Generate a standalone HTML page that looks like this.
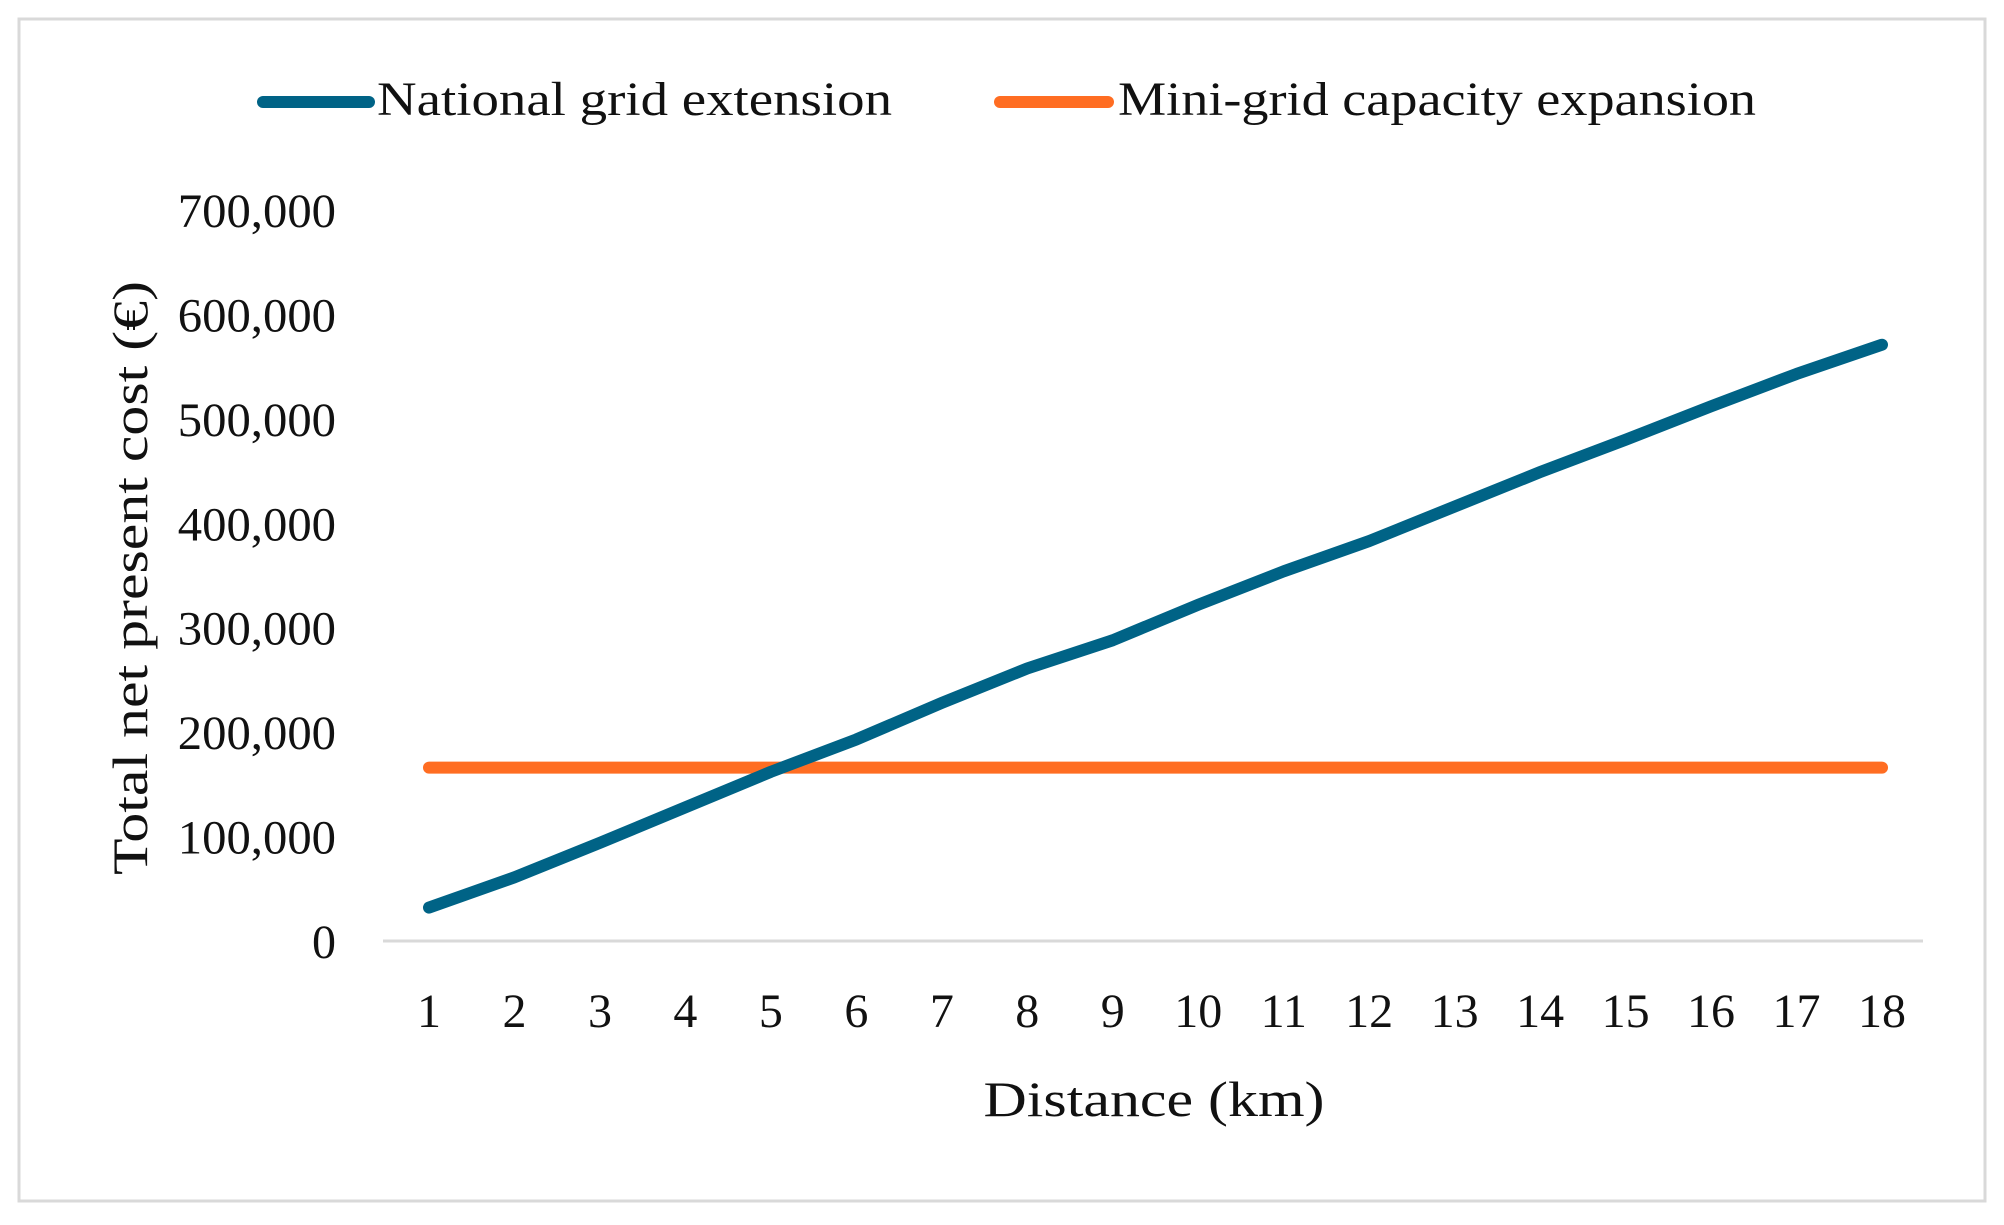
<!DOCTYPE html>
<html><head><meta charset="utf-8"><style>
html,body{margin:0;padding:0;background:#fff;}
svg{display:block;font-family:"Liberation Serif",serif;}
</style></head><body>
<svg id="chart" width="2004" height="1225" viewBox="0 0 2004 1225">
<rect x="19" y="19" width="1966" height="1182" fill="#fff" stroke="#d9d9d9" stroke-width="3"/>
<g>
<g>
<line x1="263" y1="102" x2="369" y2="102" stroke="#006386" stroke-width="12" stroke-linecap="round"/>
<text x="377" y="115" font-size="48" fill="#111" textLength="515" lengthAdjust="spacingAndGlyphs">National grid extension</text>
</g>
<g>
<line x1="1000" y1="102" x2="1108" y2="102" stroke="#ff6d22" stroke-width="12" stroke-linecap="round"/>
<text x="1118" y="115" font-size="48" fill="#111" textLength="638" lengthAdjust="spacingAndGlyphs">Mini-grid capacity expansion</text>
</g>
</g>
<g id="axes"></g>
<g id="series"></g>
<text x="0" y="0" transform="translate(147,578) rotate(-90)" text-anchor="middle" font-size="50" fill="#111" textLength="594" lengthAdjust="spacingAndGlyphs">Total net present cost (€)</text>
<text x="1154" y="1116" text-anchor="middle" font-size="50" fill="#111" textLength="341" lengthAdjust="spacingAndGlyphs">Distance (km)</text>
</svg>
<script>
const categories = [1,2,3,4,5,6,7,8,9,10,11,12,13,14,15,16,17,18];
const nationalGrid = [32000,61000,94000,128000,162000,193000,228000,261000,288000,322000,354000,383000,416000,449000,480000,512000,543000,571000];
const miniGrid = [166000,166000,166000,166000,166000,166000,166000,166000,166000,166000,166000,166000,166000,166000,166000,166000,166000,166000];
const yTicks = [0,100000,200000,300000,400000,500000,600000,700000];
const yTickLabels = ["0","100,000","200,000","300,000","400,000","500,000","600,000","700,000"];

const NS = "http://www.w3.org/2000/svg";
const y0 = 941, yTop = 210, yMax = 700000;
const x1 = 429, xN = 1882;
function yScale(v){ return y0 - (v / yMax) * (y0 - yTop); }
function xScale(i){ return x1 + i * (xN - x1) / (categories.length - 1); }
const axes = document.getElementById('axes');
const series = document.getElementById('series');

const axisLine = document.createElementNS(NS,'line');
axisLine.setAttribute('x1',383); axisLine.setAttribute('x2',1923);
axisLine.setAttribute('y1',y0); axisLine.setAttribute('y2',y0);
axisLine.setAttribute('stroke','#d9d9d9'); axisLine.setAttribute('stroke-width','3');


axes.appendChild(axisLine);

yTicks.forEach((v,i)=>{
  const t = document.createElementNS(NS,'text');
  t.setAttribute('x',336); t.setAttribute('y',yScale(v)+17);
  t.setAttribute('text-anchor','end'); t.setAttribute('font-size','48'); t.setAttribute('fill','#111');
  if (yTickLabels[i].length > 1) { t.setAttribute('textLength', yTickLabels[i].length*22.6); t.setAttribute('lengthAdjust','spacingAndGlyphs'); }
  t.textContent = yTickLabels[i];
  
  
  axes.appendChild(t);
});
categories.forEach((c,i)=>{
  const t = document.createElementNS(NS,'text');
  t.setAttribute('x',xScale(i)); t.setAttribute('y',1027);
  t.setAttribute('text-anchor','middle'); t.setAttribute('font-size','48'); t.setAttribute('fill','#111');
  t.textContent = c;
  
  
  axes.appendChild(t);
});
function drawLine(vals, color, name){
  const p = document.createElementNS(NS,'polyline');
  p.setAttribute('points', vals.map((v,i)=>xScale(i)+','+yScale(v)).join(' '));
  p.setAttribute('fill','none'); p.setAttribute('stroke',color); p.setAttribute('stroke-width','12');
  p.setAttribute('stroke-linecap','round'); p.setAttribute('stroke-linejoin','round');
  
  
  series.appendChild(p);
}
drawLine(miniGrid,'#ff6d22','mini-grid-line');
drawLine(nationalGrid,'#006386','national-grid-line');
</script>
</body></html>
